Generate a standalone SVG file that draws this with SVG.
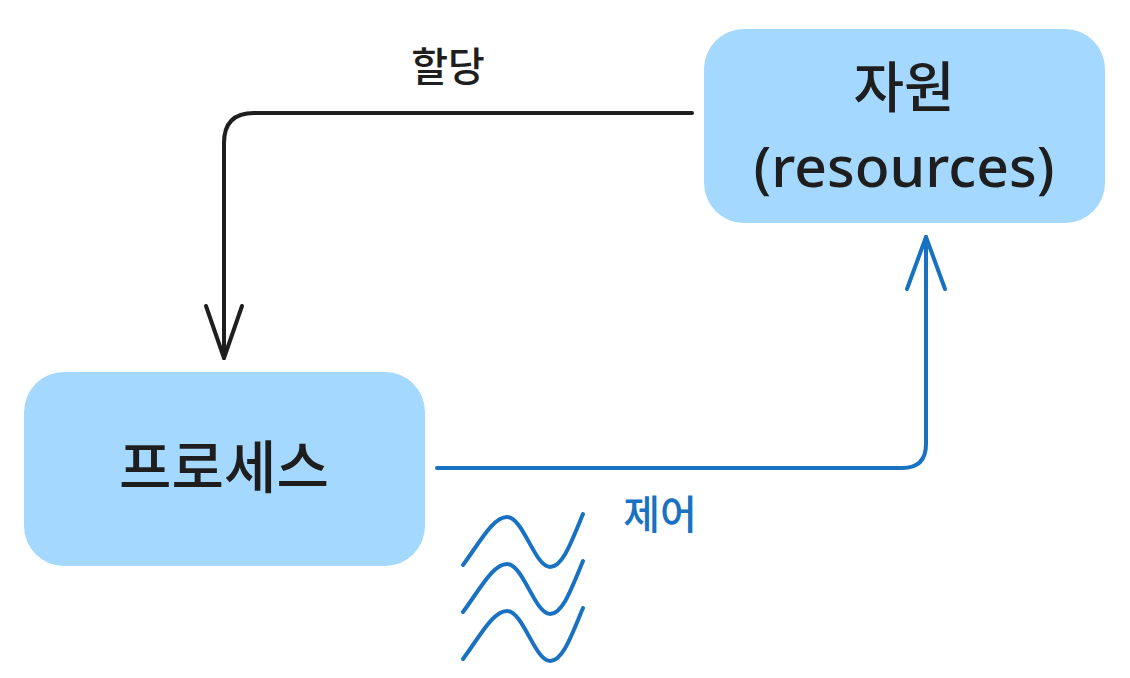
<svg xmlns="http://www.w3.org/2000/svg" width="1130" height="678" viewBox="0 0 1130 678">
<style>
.box{fill:#a5d8ff;}
.t{font-family:"Noto Sans","Noto Sans CJK KR",sans-serif;fill:#1e1e1e;text-anchor:middle;font-weight:500;}
.blk{fill:none;stroke:#1e1e1e;stroke-width:4;stroke-linecap:round;stroke-linejoin:round;}
.blu{fill:none;stroke:#1971c2;stroke-width:4;stroke-linecap:round;stroke-linejoin:round;}
</style>
<rect width="1130" height="678" fill="#ffffff"/>
<g id="resource">
<rect class="box" x="704" y="29" width="401" height="194" rx="40"/>
<text class="t" x="904" y="107" font-size="55">자원</text>
<text class="t" x="904" y="187" font-size="57">(resources)</text>
</g>
<g id="process">
<rect class="box" x="24" y="372" width="401" height="194" rx="40"/>
<text class="t" x="224" y="488" font-size="57">프로세스</text>
</g>
<g id="connectors">
<path class="blk" d="M692 113 H254 Q224 113 224 143 V358"/>
<path class="blk" d="M206 306 L224 358 L242 306"/>
<text class="t" x="448" y="81" font-size="40">할당</text>
<path class="blu" d="M437 468 H902 Q926 468 926 444 V237"/>
<path class="blu" d="M907 289 L926 237 L945 289"/>
<text class="t" x="660" y="529" font-size="40" style="fill:#1971c2">제어</text>
</g>
<g id="waves" class="blu">
<path d="M463 565 C480 542 493 517 507 517 C523 517 535 567 550 567 C563 567 572 540 583 514"/>
<path d="M463 612 C480 589 493 564 507 564 C523 564 535 614 550 614 C563 614 572 587 583 561"/>
<path d="M463 659 C480 636 493 611 507 611 C523 611 535 661 550 661 C563 661 572 634 583 608"/>
</g>
</svg>
